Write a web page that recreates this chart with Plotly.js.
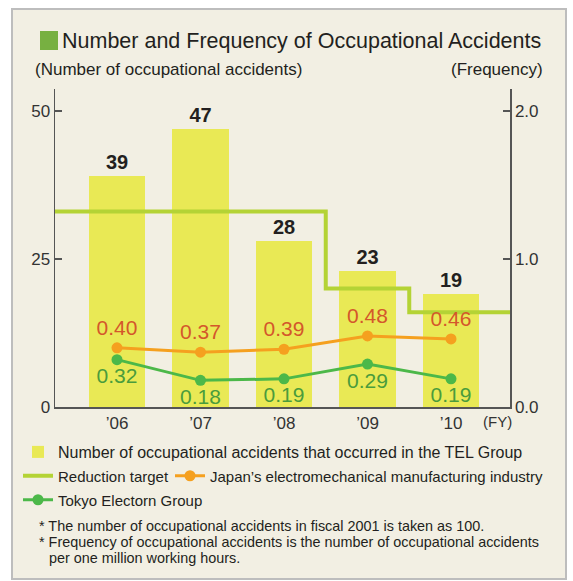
<!DOCTYPE html>
<html>
<head>
<meta charset="utf-8">
<script src="https://cdn.plot.ly/plotly-3.0.1.min.js"></script>
<style>
  html, body { margin: 0; padding: 0; background: #ffffff; }
  #panel { position: absolute; left: 11px; top: 8px; width: 556px; height: 572px; box-sizing: border-box; border: 2px solid #bdbdbd; background: #f2efe3; }
  #chart { position: absolute; left: 0; top: 0; width: 573px; height: 581px; }
</style>
</head>
<body>
<div id="panel"></div>
<div id="chart"></div>
<script>
// ---- data ----
const years = ['\u201906', '\u201907', '\u201908', '\u201909', '\u201910'];
const accidents = [39, 47, 28, 23, 19];
const reductionTarget = [33, 33, 33, 20, 16];
const japanIndustry = [0.40, 0.37, 0.39, 0.48, 0.46];
const telGroup = [0.32, 0.18, 0.19, 0.29, 0.19];

const idx = years.map((_, i) => i);
const FONT = 'Liberation Sans, Arial, Helvetica, sans-serif';

// extend target line beyond first/last category (clipped by the plot area)
const targetX = [-1].concat(idx, [years.length]);
const targetY = [reductionTarget[0]].concat(reductionTarget, [reductionTarget[reductionTarget.length - 1]]);

const traces = [
  {
    type: 'bar', x: idx, y: accidents, width: 0.68,
    name: 'Number of occupational accidents that occurred in the TEL Group',
    marker: { color: '#e9e955' },
    texttemplate: '<b>%{y}</b>', textposition: 'outside',
    outsidetextfont: { family: FONT, size: 20, color: '#231f20' },
    cliponaxis: false, legend: 'legend', hoverinfo: 'skip'
  },
  {
    type: 'scatter', mode: 'lines', x: targetX, y: targetY,
    line: { color: '#b4d335', width: 4, shape: 'hvh' },
    name: 'Reduction target', legend: 'legend2', hoverinfo: 'skip'
  },
  {
    type: 'scatter', mode: 'lines+markers+text', x: idx, y: japanIndustry, yaxis: 'y2',
    line: { color: '#f5a01f', width: 3 },
    marker: { color: '#f5a01f', size: 11 },
    texttemplate: '%{y:.2f}', textposition: 'top center',
    textfont: { family: FONT, size: 21, color: '#d4572b' },
    name: 'Japan\u2019s electromechanical manufacturing industry', legend: 'legend3',
    cliponaxis: false, hoverinfo: 'skip'
  },
  {
    type: 'scatter', mode: 'lines+markers+text', x: idx, y: telGroup, yaxis: 'y2',
    line: { color: '#4cb849', width: 3 },
    marker: { color: '#4cb849', size: 11 },
    texttemplate: '%{y:.2f}', textposition: 'bottom center',
    textfont: { family: FONT, size: 21, color: '#4a9c3c' },
    name: 'Tokyo Electorn Group', legend: 'legend4',
    cliponaxis: false, hoverinfo: 'skip'
  }
];

const legendBase = {
  orientation: 'h', xanchor: 'left', yanchor: 'middle',
  bgcolor: 'rgba(0,0,0,0)', borderwidth: 0, itemwidth: 30,
  font: { family: FONT, size: 15, color: '#231f20' }
};
function px2x(px) { return (px - 55) / 455; }
function px2y(py) { return (407 - py) / 318; }

const layout = {
  width: 573, height: 581,
  margin: { l: 55, r: 63, t: 89, b: 174 },
  paper_bgcolor: 'rgba(0,0,0,0)', plot_bgcolor: 'rgba(0,0,0,0)',
  font: { family: FONT, color: '#333333' },
  showlegend: true,
  bargap: 0,
  xaxis: {
    type: 'linear', range: [-0.7425, 4.7066],
    tickvals: idx, ticktext: years, ticks: '',
    showgrid: false, zeroline: false,
    showline: true, linecolor: '#555555', linewidth: 1.5,
    tickfont: { family: FONT, size: 17, color: '#333333' },
    fixedrange: true
  },
  yaxis: {
    range: [0, 53.7], tickvals: [0, 25, 50],
    ticks: 'inside', ticklen: 7, tickwidth: 1.5, tickcolor: '#555555',
    showgrid: false, zeroline: false,
    showline: true, linecolor: '#555555', linewidth: 1.5,
    tickfont: { family: FONT, size: 17, color: '#333333' },
    fixedrange: true
  },
  yaxis2: {
    overlaying: 'y', side: 'right',
    range: [0, 2.148], tickvals: [0, 1, 2], tickformat: '.1f',
    ticks: 'inside', ticklen: 7, tickwidth: 1.5, tickcolor: '#555555',
    showgrid: false, zeroline: false,
    showline: true, linecolor: '#555555', linewidth: 1.5,
    tickfont: { family: FONT, size: 17, color: '#333333' },
    fixedrange: true
  },
  legend: Object.assign({}, legendBase, { x: px2x(18), y: px2y(452),
    font: { family: FONT, size: 16, color: '#231f20' } }),
  legend2: Object.assign({}, legendBase, { x: px2x(18), y: px2y(476) }),
  legend3: Object.assign({}, legendBase, { x: px2x(170), y: px2y(476) }),
  legend4: Object.assign({}, legendBase, { x: px2x(18), y: px2y(500) }),
  shapes: [
    { type: 'rect', xref: 'paper', yref: 'paper',
      x0: px2x(40), x1: px2x(58), y0: px2y(31), y1: px2y(50),
      fillcolor: '#77b041', line: { width: 0 } }
  ],
  annotations: [
    { text: 'Number and Frequency of Occupational Accidents', xref: 'paper', yref: 'paper',
      x: px2x(60), y: px2y(41), xanchor: 'left', yanchor: 'middle', showarrow: false,
      font: { family: FONT, size: 21.5, color: '#231f20' } },
    { text: '(Number of occupational accidents)', xref: 'paper', yref: 'paper',
      x: px2x(33), y: px2y(70), xanchor: 'left', yanchor: 'middle', showarrow: false,
      font: { family: FONT, size: 17, color: '#231f20' } },
    { text: '(Frequency)', xref: 'paper', yref: 'paper',
      x: px2x(545), y: px2y(70), xanchor: 'right', yanchor: 'middle', showarrow: false,
      font: { family: FONT, size: 17, color: '#231f20' } },
    { text: '(FY)', xref: 'paper', yref: 'paper',
      x: px2x(497), y: px2y(421), xanchor: 'center', yanchor: 'middle', showarrow: false,
      font: { family: FONT, size: 15, color: '#333333' } },
    { text: '* The number of occupational accidents in fiscal 2001 is taken as 100.', xref: 'paper', yref: 'paper',
      x: px2x(37), y: px2y(526), xanchor: 'left', yanchor: 'middle', showarrow: false,
      font: { family: FONT, size: 14.4, color: '#231f20' } },
    { text: '* Frequency of occupational accidents is the number of occupational accidents', xref: 'paper', yref: 'paper',
      x: px2x(37), y: px2y(542), xanchor: 'left', yanchor: 'middle', showarrow: false,
      font: { family: FONT, size: 14.4, color: '#231f20' } },
    { text: 'per one million working hours.', xref: 'paper', yref: 'paper',
      x: px2x(47), y: px2y(558), xanchor: 'left', yanchor: 'middle', showarrow: false,
      font: { family: FONT, size: 14.4, color: '#231f20' } }
  ]
};

Plotly.newPlot('chart', traces, layout, { staticPlot: true, displayModeBar: false });
</script>
</body>
</html>
